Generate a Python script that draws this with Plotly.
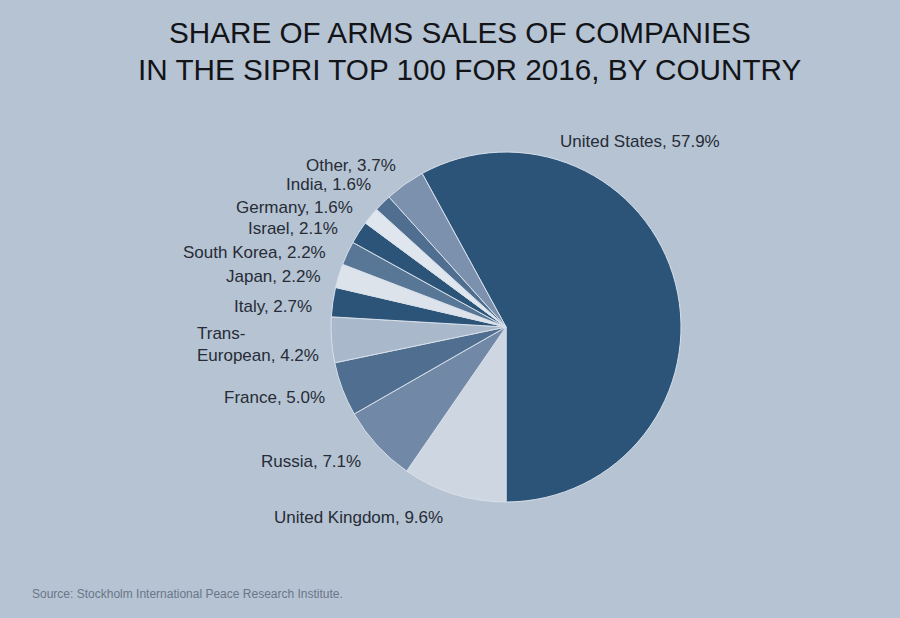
import plotly.graph_objects as go

countries = ["United States", "United Kingdom", "Russia", "France", "Trans-European",
             "Italy", "Japan", "South Korea", "Israel", "Germany", "India", "Other"]
label_texts = ["United States, 57.9%", "United Kingdom, 9.6%", "Russia, 7.1%", "France, 5.0%",
               "Trans-<br>European, 4.2%", "Italy, 2.7%", "Japan, 2.2%", "South Korea, 2.2%",
               "Israel, 2.1%", "Germany, 1.6%", "India, 1.6%", "Other, 3.7%"]
shares = [57.9, 9.6, 7.1, 5.0, 4.2, 2.7, 2.2, 2.2, 2.1, 1.6, 1.6, 3.7]
colors = ["#2c5479", "#cdd6e1", "#7189a7", "#4f6e90", "#a9b8ca", "#2c5479",
          "#dde3eb", "#587797", "#2c5479", "#e0e6ed", "#4f6e90", "#7b91ae"]

# label layout (pixel positions of the text anchors, styling only)
label_pos = [(558, 141, "left"), (272, 517, "left"), (363, 461, "right"), (327, 397, "right"),
             (195, 344, "left"), (314, 307, "right"), (323, 277, "right"), (328, 252, "right"),
             (340, 228, "right"), (355, 207, "right"), (373, 185, "right"), (398, 165, "right")]

W, H = 900, 618
FONT = "Liberation Sans, Arial, sans-serif"

# the first slice (United States) ends at 6 o'clock, going clockwise
start_angle = 180 - 360 * shares[0] / sum(shares)

fig = go.Figure(go.Pie(
    labels=countries,
    values=shares,
    sort=False,
    direction="clockwise",
    rotation=start_angle,
    marker=dict(colors=colors, line=dict(color="#d8e0ea", width=1)),
    textinfo="none",
    domain=dict(x=[0.3678, 0.7567], y=[0.1877, 0.7540]),
    showlegend=False,
    hoverinfo="label+percent",
))

annotations = []
for txt, (px, py, anchor) in zip(label_texts, label_pos):
    annotations.append(dict(
        text=txt, x=px / W, y=1 - py / H, xref="paper", yref="paper",
        xanchor=anchor, yanchor="middle", align=anchor, showarrow=False,
        font=dict(family=FONT, size=17, color="#272c36"),
    ))

title_lines = [("SHARE OF ARMS SALES OF COMPANIES", 459.5, 33),
               ("IN THE SIPRI TOP 100 FOR 2016, BY COUNTRY", 469, 70)]
for txt, px, py in title_lines:
    annotations.append(dict(
        text=txt, x=px / W, y=1 - py / H, xref="paper", yref="paper",
        xanchor="center", yanchor="middle", showarrow=False,
        font=dict(family=FONT, size=29.7, color="#121418"),
    ))

annotations.append(dict(
    text="Source: Stockholm International Peace Research Institute.",
    x=30 / W, y=1 - 594 / H, xref="paper", yref="paper",
    xanchor="left", yanchor="middle", showarrow=False,
    font=dict(family=FONT, size=12, color="#6b7688"),
))

fig.update_layout(
    width=W, height=H,
    margin=dict(l=0, r=0, t=0, b=0),
    paper_bgcolor="#b5c3d3",
    plot_bgcolor="#b5c3d3",
    annotations=annotations,
)

fig.write_html("out.html", config={"displayModeBar": False},
               post_script="document.body.style.margin='0';document.body.style.overflow='hidden';")
